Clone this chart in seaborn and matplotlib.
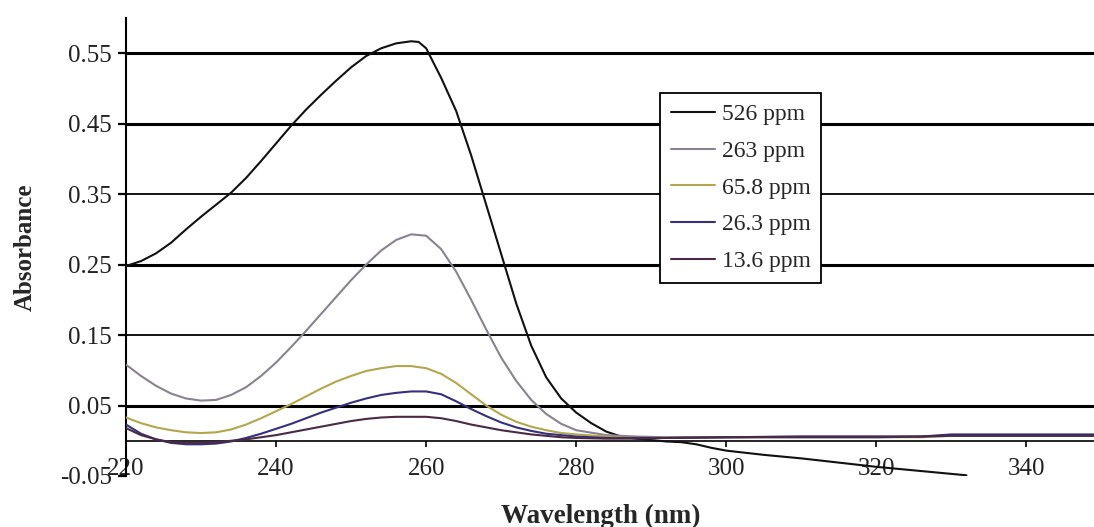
import numpy as np
import pandas as pd
import matplotlib
matplotlib.use("Agg")
import matplotlib.pyplot as plt
from matplotlib.lines import Line2D
from matplotlib.ticker import FormatStrFormatter
import seaborn as sns

# ---------------- data ----------------
series_names = ["526 ppm", "263 ppm", "65.8 ppm", "26.3 ppm", "13.6 ppm"]

wl_526 = [220, 222, 224, 226, 228, 230, 232, 234, 236, 238, 240, 242, 244, 246, 248,
          250, 252, 254, 256, 258, 259, 260, 262, 264, 266, 268, 270, 272, 274, 276,
          278, 280, 282, 284, 286, 288, 290, 292, 294, 296, 298, 300, 305, 310, 315,
          320, 325, 330, 332]
abs_526 = [0.248, 0.255, 0.266, 0.281, 0.300, 0.318, 0.335, 0.352, 0.373, 0.397, 0.422,
           0.447, 0.470, 0.491, 0.511, 0.530, 0.546, 0.557, 0.564, 0.567, 0.566, 0.557,
           0.515, 0.468, 0.405, 0.335, 0.265, 0.195, 0.135, 0.090, 0.060, 0.040, 0.025,
           0.013, 0.006, 0.003, 0.001, -0.001, -0.002, -0.005, -0.010, -0.014, -0.020,
           -0.025, -0.031, -0.037, -0.042, -0.047, -0.049]

wl_low = [220, 222, 224, 226, 228, 230, 232, 234, 236, 238, 240, 242, 244, 246, 248,
          250, 252, 254, 256, 258, 260, 262, 264, 266, 268, 270, 272, 274, 276, 278,
          280, 284, 288, 292, 300, 310, 320, 326, 330, 340, 350]
abs_263 = [0.108, 0.092, 0.078, 0.067, 0.060, 0.057, 0.058, 0.065, 0.076, 0.092, 0.111,
           0.133, 0.156, 0.180, 0.204, 0.228, 0.250, 0.270, 0.285, 0.293, 0.291, 0.272,
           0.240, 0.200, 0.158, 0.118, 0.085, 0.058, 0.038, 0.024, 0.015, 0.008, 0.006,
           0.005, 0.005, 0.006, 0.006, 0.006, 0.008, 0.008, 0.008]
abs_658 = [0.033, 0.025, 0.019, 0.015, 0.012, 0.011, 0.012, 0.016, 0.023, 0.032, 0.042,
           0.052, 0.063, 0.074, 0.084, 0.092, 0.099, 0.103, 0.106, 0.106, 0.103, 0.095,
           0.082, 0.066, 0.050, 0.037, 0.027, 0.020, 0.015, 0.011, 0.009, 0.006, 0.004,
           0.004, 0.005, 0.005, 0.005, 0.005, 0.007, 0.007, 0.007]
abs_263b = [0.023, 0.010, 0.002, -0.003, -0.005, -0.005, -0.004, -0.001, 0.004, 0.010,
            0.017, 0.024, 0.032, 0.040, 0.047, 0.054, 0.060, 0.065, 0.068, 0.070, 0.070,
            0.066, 0.056, 0.045, 0.035, 0.026, 0.019, 0.014, 0.010, 0.008, 0.006, 0.004,
            0.004, 0.004, 0.005, 0.005, 0.005, 0.006, 0.009, 0.009, 0.009]
abs_136 = [0.018, 0.008, 0.002, -0.002, -0.003, -0.003, -0.002, 0.000, 0.002, 0.005,
           0.008, 0.012, 0.016, 0.020, 0.024, 0.028, 0.031, 0.033, 0.034, 0.034, 0.034,
           0.032, 0.028, 0.023, 0.019, 0.015, 0.012, 0.009, 0.007, 0.005, 0.004, 0.003,
           0.003, 0.004, 0.005, 0.006, 0.006, 0.006, 0.007, 0.007, 0.007]

x_ticks = [220, 240, 260, 280, 300, 320, 340]
y_ticks = [-0.05, 0.05, 0.15, 0.25, 0.35, 0.45, 0.55]

colors = {"526 ppm": "#111111", "263 ppm": "#8a8290", "65.8 ppm": "#b3a64e",
          "26.3 ppm": "#35307e", "13.6 ppm": "#4a2a45"}

# ---------------- build long-form table ----------------
frames = [
    pd.DataFrame({"wl": wl_526, "abs": abs_526, "series": "526 ppm"}),
    pd.DataFrame({"wl": wl_low, "abs": abs_263, "series": "263 ppm"}),
    pd.DataFrame({"wl": wl_low, "abs": abs_658, "series": "65.8 ppm"}),
    pd.DataFrame({"wl": wl_low, "abs": abs_263b, "series": "26.3 ppm"}),
    pd.DataFrame({"wl": wl_low, "abs": abs_136, "series": "13.6 ppm"}),
]
df = pd.concat(frames, ignore_index=True)

# ---------------- plot ----------------
sns.set_theme(style="white")
plt.rcParams["font.family"] = ["Liberation Serif", "DejaVu Serif"]

fig = plt.figure(figsize=(10.94, 5.27), dpi=100)
ax = fig.add_axes([126 / 1094, 1 - 476 / 527, 968 / 1094, 458 / 527])

sns.lineplot(data=df, x="wl", y="abs", hue="series", hue_order=series_names,
             palette=colors, sort=False, estimator=None, linewidth=1.5,
             legend=False, ax=ax, zorder=3)

ax.set_xlim(220, 349)
ax.set_ylim(-0.05, 0.60)
ax.set_xticks(x_ticks)
ax.set_yticks(y_ticks)
ax.yaxis.set_major_formatter(FormatStrFormatter("%.2f"))

# gridlines
ax.grid(True, axis="y", color="black")
gl_widths = {-0.05: 0, 0.05: 2.2, 0.15: 1.3, 0.25: 2.2, 0.35: 1.3, 0.45: 2.2, 0.55: 2.2}
for val, line in zip(y_ticks, ax.yaxis.get_gridlines()):
    w = gl_widths[val]
    line.set_linewidth(w)
    line.set_visible(w > 0)
ax.set_axisbelow(True)

# spines
for s in ["top", "right"]:
    ax.spines[s].set_visible(False)
ax.spines["left"].set_color("black")
ax.spines["left"].set_linewidth(1.5)
ax.spines["bottom"].set_position(("data", 0))
ax.spines["bottom"].set_color("black")
ax.spines["bottom"].set_linewidth(1.2)

ax.tick_params(axis="y", direction="out", length=6, width=1.6, color="black",
               labelsize=18, pad=4, left=True)
ax.tick_params(axis="x", direction="out", length=4.5, width=1.2, color="black",
               labelsize=18, pad=8, bottom=True)
for lbl in ax.get_xticklabels() + ax.get_yticklabels():
    lbl.set_color("#222222")

ax.set_xlabel("Wavelength (nm)", fontsize=19.5, fontweight="bold")
ax.set_ylabel("Absorbance", fontsize=18, fontweight="bold")
ax.xaxis.set_label_coords(0.49, -0.06)
ax.yaxis.set_label_coords(-0.092, 0.5)

handles = [Line2D([0], [0], color=colors[n], lw=1.5) for n in series_names]
leg = ax.legend(handles, series_names, loc="center",
                bbox_to_anchor=(0.635, 0.629), fontsize=17, frameon=True,
                fancybox=False, framealpha=1, edgecolor="black",
                handlelength=1.85, handletextpad=0.3, labelspacing=0.64,
                borderpad=0.45, borderaxespad=0)
leg.get_frame().set_linewidth(1.3)
leg.set_zorder(5)

fig.savefig("out.png", dpi=100, facecolor="white")
